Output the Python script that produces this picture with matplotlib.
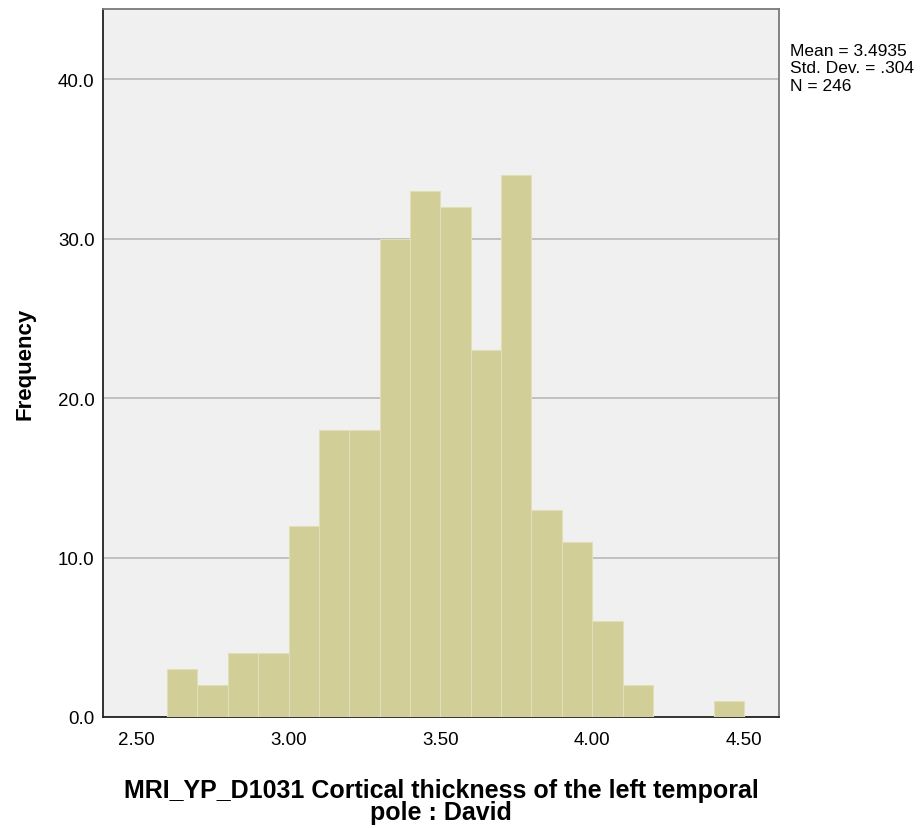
import matplotlib.pyplot as plt

plt.rcParams['font.family'] = ['Liberation Sans', 'DejaVu Sans']

# Histogram bins (lower edges) and counts
bin_left = [2.60, 2.70, 2.80, 2.90, 3.00, 3.10, 3.20, 3.30, 3.40, 3.50,
            3.60, 3.70, 3.80, 3.90, 4.00, 4.10, 4.20, 4.30, 4.40]
counts = [3, 2, 4, 4, 12, 18, 18, 30, 33, 32, 23, 34, 13, 11, 6, 2, 0, 0, 1]
bin_width = 0.1

x_ticks = [2.50, 3.00, 3.50, 4.00, 4.50]
y_ticks = [0, 10, 20, 30, 40]

fig = plt.figure(figsize=(9.24, 8.29), dpi=100)
ax = fig.add_axes([103 / 924, 111 / 829, 676 / 924, 708 / 829])
ax.set_facecolor('#f0f0f0')

ax.bar(bin_left, counts, width=bin_width, align='edge',
       color='#d2ce98', edgecolor='#e2dfb6', linewidth=0.8, zorder=3)

ax.set_xlim(2.389, 4.615)
ax.set_ylim(0, 44.4)
ax.set_xticks(x_ticks)
ax.set_xticklabels([f'{v:.2f}' for v in x_ticks])
ax.set_yticks(y_ticks)
ax.set_yticklabels([f'{v:.1f}' for v in y_ticks])
ax.tick_params(length=0, labelsize=13.5, pad=6)
ax.tick_params(axis='x', pad=10)
ax.grid(axis='y', color='#b8b8b8', linewidth=1.2, zorder=1)

ax.spines['left'].set_color('#222222')
ax.spines['bottom'].set_color('#222222')
ax.spines['top'].set_color('#7a7a7a')
ax.spines['right'].set_color('#7a7a7a')
for s in ax.spines.values():
    s.set_linewidth(1.3)

ax.set_ylabel('Frequency', fontsize=16, fontweight='bold', labelpad=16)
ax.set_xlabel('MRI_YP_D1031 Cortical thickness of the left temporal\npole : David',
              fontsize=18, fontweight='bold', labelpad=22, linespacing=0.85)

fig.text(790 / 924, 1 - 44 / 829, 'Mean = 3.4935\nStd. Dev. = .304\nN = 246',
         fontsize=12.5, va='top', ha='left', linespacing=1.2)

fig.savefig('out.png', dpi=100)
